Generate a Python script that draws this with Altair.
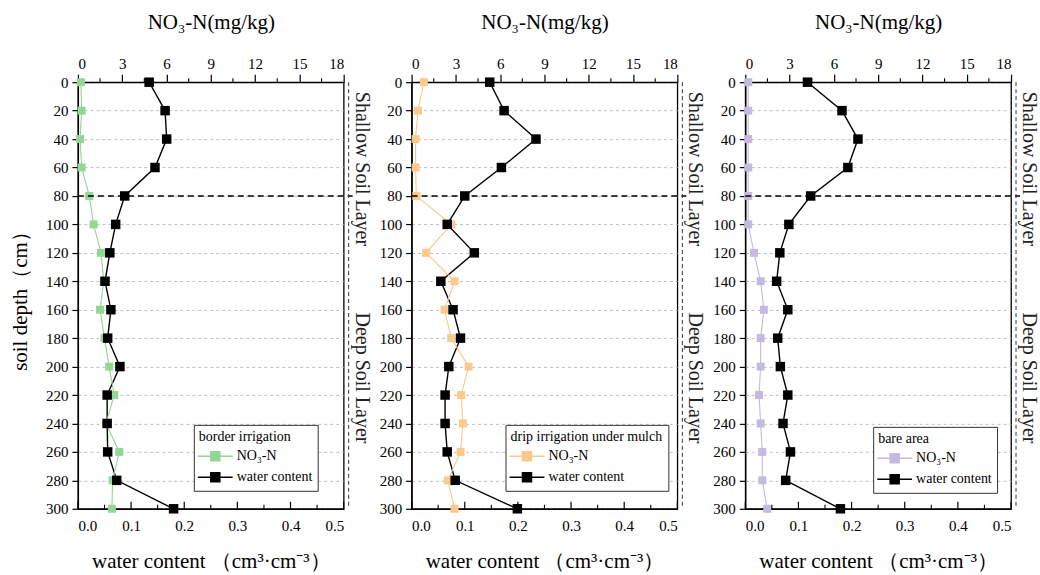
import altair as alt
import pandas as pd

# Soil depth of each sampling point (cm)
depth = [0, 20, 40, 60, 80, 100, 120, 140, 160, 180, 200, 220, 240, 260, 280, 300]

# Volumetric water content (cm3/cm3) and nitrate-N (mg/kg) for each treatment
border_water = [0.134, 0.164, 0.167, 0.145, 0.088, 0.071, 0.060, 0.051, 0.062, 0.056,
                0.079, 0.055, 0.055, 0.056, 0.073, 0.180]
border_no3 = [0.2, 0.25, 0.15, 0.25, 0.77, 1.06, 1.56, 1.75, 1.5, 1.8,
              2.12, 2.46, 1.9, 2.8, 2.35, 2.3]

drip_water = [0.147, 0.174, 0.234, 0.169, 0.100, 0.067, 0.118, 0.055, 0.078, 0.092,
              0.070, 0.063, 0.063, 0.067, 0.082, 0.199]
drip_no3 = [0.83, 0.43, 0.27, 0.27, 0.32, 2.68, 0.99, 2.91, 2.23, 2.68,
            3.86, 3.36, 3.47, 3.32, 2.46, 2.91]

bare_water = [0.117, 0.182, 0.212, 0.193, 0.123, 0.082, 0.065, 0.059, 0.080, 0.061,
              0.066, 0.080, 0.071, 0.085, 0.076, 0.179]
bare_no3 = [0.2, 0.2, 0.2, 0.2, 0.2, 0.2, 0.59, 1.04, 1.26, 1.04,
            1.04, 0.93, 1.04, 1.15, 1.15, 1.49]

# Axis tick values
no3_major = [0, 3, 6, 9, 12, 15, 18]
no3_minor = [1.5, 4.5, 7.5, 10.5, 13.5, 16.5]
water_major = [0.0, 0.1, 0.2, 0.3, 0.4, 0.5]
water_minor = [0.05, 0.15, 0.25, 0.35, 0.45]
depth_ticks = list(range(0, 301, 20))

SERIF = "Liberation Serif"
W, H = 266, 427
SERIES = ["NO\u2083-N", "water content"]
# line + filled square legend glyph
GLYPH = "M-2.05,0L-0.53,0M0.53,0L2.05,0M-0.53,-0.53L0.53,-0.53L0.53,0.53L-0.53,0.53Z"


def panel(name, water, no3, color, leg_x, leg_y, first):
    wdf = pd.DataFrame({"depth": depth, "value": water, "series": SERIES[1]})
    ndf = pd.DataFrame({"depth": depth, "value": no3, "series": SERIES[0]})

    yscale = alt.Scale(domain=[0, 300], reverse=True, nice=False, zero=False)
    y = alt.Y("depth:Q", scale=yscale,
              axis=alt.Axis(values=depth_ticks, tickCount=len(depth_ticks),
                            title="soil depth\uff08cm\uff09" if first else None,
                            labelOverlap=False, labelFontSize=15,
                            grid=True, gridDash=[3, 3], gridColor="#b0b0b0", gridWidth=0.8,
                            tickSize=6, labelPadding=4, titlePadding=15, titleFontSize=21))
    y_plain = alt.Y("depth:Q", scale=yscale)

    color_enc = alt.Color(
        "series:N",
        scale=alt.Scale(domain=SERIES, range=[color, "black"]),
        legend=alt.Legend(
            title=name, orient="none", legendX=leg_x, legendY=leg_y,
            direction="vertical", symbolType=GLYPH, symbolSize=289,
            symbolStrokeWidth=1.5, symbolOffset=7, strokeColor="#333333", fillColor="white",
            padding=5, rowPadding=3, titlePadding=3, labelOffset=12,
            titleFont=SERIF, titleFontSize=14, titleFontWeight="normal", titleColor="black",
            labelFont=SERIF, labelFontSize=14, labelColor="black",
        ),
    )

    wx = alt.Scale(domain=[0, 0.5], nice=False, zero=False)
    nx = alt.Scale(domain=[0, 18], nice=False, zero=False)

    water_line = alt.Chart(wdf).mark_line(strokeWidth=1.4).encode(
        x=alt.X("value:Q", scale=wx,
                axis=alt.Axis(values=water_major, format=".1f", ticks=False, labelPadding=10,
                              grid=False,
                              title="water content \uff08cm\u00b3\u00b7cm\u207b\u00b3\uff09",
                              titlePadding=17)),
        y=y, color=color_enc, order=alt.Order("depth:Q"))
    water_pts = alt.Chart(wdf).mark_point(shape="square", filled=True, size=90, opacity=1).encode(
        x=alt.X("value:Q", scale=wx, axis=None), y=y_plain, color=color_enc)

    no3_line = alt.Chart(ndf).mark_line(strokeWidth=1.1).encode(
        x=alt.X("value:Q", scale=nx,
                axis=alt.Axis(orient="top", values=no3_major, tickSize=8, labelPadding=3,
                              grid=False, title="NO\u2083-N(mg/kg)", titlePadding=24)),
        y=y_plain, color=color_enc, order=alt.Order("depth:Q"))
    no3_pts = alt.Chart(ndf).mark_point(shape="square", filled=True, size=64, opacity=1).encode(
        x=alt.X("value:Q", scale=nx, axis=None), y=y_plain, color=color_enc)

    # minor ticks on the top axis, pointing outwards
    top_minor = alt.Chart(pd.DataFrame({"t": no3_minor})).mark_rule(color="black", strokeWidth=1.1).encode(
        x=alt.X("t:Q", scale=nx, axis=None), y=alt.value(-4), y2=alt.value(0))
    # bottom axis ticks, pointing into the plot
    bot_major = alt.Chart(pd.DataFrame({"t": water_major})).mark_rule(color="black", strokeWidth=1.2).encode(
        x=alt.X("t:Q", scale=wx, axis=None), y=alt.value(H - 7), y2=alt.value(H))
    bot_minor = alt.Chart(pd.DataFrame({"t": water_minor})).mark_rule(color="black", strokeWidth=1.1).encode(
        x=alt.X("t:Q", scale=wx, axis=None), y=alt.value(H - 4), y2=alt.value(H))

    # boundary between shallow and deep soil layers
    boundary = alt.Chart(pd.DataFrame({"depth": [80]})).mark_rule(
        color="black", strokeDash=[6, 4], strokeWidth=1.4).encode(
        y=y_plain, x=alt.value(0), x2=alt.value(W + 9))

    side = alt.Chart(pd.DataFrame({"depth": [0]})).mark_rule(
        color="#333333", strokeDash=[4, 3], strokeWidth=1).encode(
        x=alt.value(W + 5), y=alt.value(0), y2=alt.value(H))

    layer_text = alt.Chart(pd.DataFrame({"depth": [61, 208],
                                          "label": ["Shallow Soil Layer", "Deep Soil Layer"]})).mark_text(
        angle=90, align="center", baseline="bottom", font=SERIF, fontSize=20, color="#222222").encode(
        y=y_plain, x=alt.value(W + 8), text="label:N")

    return alt.layer(
        water_line, no3_line, no3_pts, water_pts,
        top_minor, bot_major, bot_minor, boundary, side, layer_text,
    ).resolve_scale(x="independent").properties(width=W, height=H)


p1 = panel("border irrigation", border_water, border_no3, "#94d694", 116, 343, True)
p2 = panel("drip irrigation under mulch", drip_water, drip_no3, "#fbc98c", 94, 343, False)
p3 = panel("bare area", bare_water, bare_no3, "#c4b9de", 128, 345, False)

chart = alt.hconcat(p1, p2, p3, spacing=68, bounds="flush").resolve_scale(
    color="independent", x="independent"
).resolve_legend(color="independent").properties(
    padding={"left": 8, "top": 10, "right": 0, "bottom": 2}, background="white"
).configure_view(stroke="black", strokeWidth=1.3).configure_axis(
    labelFont=SERIF, labelFontSize=15, labelColor="black",
    titleFont=SERIF, titleFontSize=21, titleFontWeight="normal", titleColor="black",
    domainColor="black", domainWidth=1.3, tickColor="black", tickWidth=1.2,
).configure_axisY(labelOverlap=False)

chart.save("out.html", embed_options={"renderer": "svg", "actions": False})
